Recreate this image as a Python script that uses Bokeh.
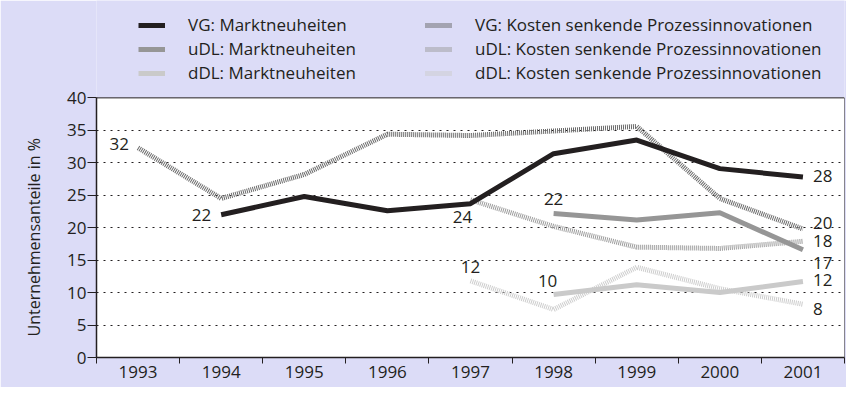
from bokeh.plotting import figure
from bokeh.models import ColumnDataSource, FixedTicker, Legend, LegendItem, Range1d, Title
from bokeh.embed import file_html
from bokeh.resources import INLINE
from bokeh.core.properties import value

nan = float("nan")
years = ["1993", "1994", "1995", "1996", "1997", "1998", "1999", "2000", "2001"]
y_ticks = [0, 5, 10, 15, 20, 25, 30, 35, 40]

vg_markt = [nan, 22.0, 24.8, 22.6, 23.7, 31.4, 33.5, 29.1, 27.8]
udl_markt = [nan, nan, nan, nan, nan, 22.2, 21.2, 22.3, 16.6]
ddl_markt = [nan, nan, nan, nan, nan, 9.7, 11.2, 10.0, 11.7]
vg_kosten = [32.3, 24.5, 28.2, 34.4, 34.2, 34.9, 35.6, 24.5, 19.8]
udl_kosten = [nan, nan, nan, nan, 24.3, 20.2, 17.0, 16.8, 17.9]
ddl_kosten = [nan, nan, nan, nan, 11.8, 7.4, 13.9, 10.6, 8.2]

labels_markt = ["VG: Marktneuheiten", "uDL: Marktneuheiten", "dDL: Marktneuheiten"]
labels_kosten = ["VG: Kosten senkende Prozessinnovationen",
                 "uDL: Kosten senkende Prozessinnovationen",
                 "dDL: Kosten senkende Prozessinnovationen"]
y_title = "Unternehmensanteile in %"

FONT = "Open Sans"
DARK = "#231f20"
BG = "#dcdcf7"

xs = [i + 0.5 for i in range(len(years))]
y_min, y_max = y_ticks[0], y_ticks[-1]
Y_TOP = 55  # headroom above the plot box that holds the legend

p = figure(width=846, height=387, output_backend="svg", toolbar_location=None,
           x_range=Range1d(0, len(years)), y_range=Range1d(y_min, Y_TOP),
           min_border_left=92, min_border_right=2, min_border_top=0, min_border_bottom=30)
p.border_fill_color = BG
p.background_fill_color = BG
p.outline_line_color = None

# white plot box
box = p.quad(left=[0], right=[len(years)], bottom=[y_min], top=[y_max],
             fill_color="white", line_color=DARK, line_width=1)
box.level = "image"

# axes
p.xaxis.ticker = FixedTicker(ticks=xs, minor_ticks=list(range(len(years) + 1)))
p.xaxis.major_label_overrides = {x: y for x, y in zip(xs, years)}
p.xaxis.major_tick_line_color = None
p.xaxis.major_tick_out = 0
p.xaxis.minor_tick_line_color = DARK
p.xaxis.minor_tick_in = 0
p.xaxis.minor_tick_out = 6
p.xaxis.axis_line_color = DARK
p.xaxis.axis_line_width = 1.5
p.xaxis.major_label_standoff = 2

p.yaxis.ticker = FixedTicker(ticks=y_ticks)
p.yaxis.bounds = (y_min, y_max)
p.yaxis.minor_tick_line_color = None
p.yaxis.major_tick_line_color = DARK
p.yaxis.major_tick_in = 0
p.yaxis.major_tick_out = 9
p.yaxis.axis_line_color = DARK
p.yaxis.axis_line_width = 1.5
p.yaxis.major_label_standoff = 1

for ax in (p.xaxis, p.yaxis):
    ax.major_label_text_font = FONT
    ax.major_label_text_font_size = "17px"
    ax.major_label_text_color = DARK

p.add_layout(Title(text=y_title, align="left", offset=21, text_font=FONT,
                   text_font_size="16px", text_font_style="normal",
                   text_color=DARK, standoff=40), "left")

p.xgrid.grid_line_color = None
p.ygrid.ticker = FixedTicker(ticks=y_ticks[1:-1])
p.ygrid.grid_line_color = DARK
p.ygrid.grid_line_dash = "2 5"
p.ygrid.grid_line_width = 1.2

# series
series = [
    (vg_kosten, "#6a6a6a", "1 1", labels_kosten[0]),
    (udl_kosten, "#9c9c9c", "1 1", labels_kosten[1]),
    (ddl_kosten, "#cdcdcd", "1 1", labels_kosten[2]),
    (vg_markt, DARK, "solid", labels_markt[0]),
    (udl_markt, "#969696", "solid", labels_markt[1]),
    (ddl_markt, "#cacaca", "solid", labels_markt[2]),
]
renderers = {}
for vals, col, dash, lab in series:
    src = ColumnDataSource(dict(x=xs, y=vals))
    r = p.line("x", "y", source=src, line_color=col, line_width=5, line_dash=dash,
               line_cap="butt", line_join="round")
    renderers[lab] = r

def first_idx(v):
    return next(i for i, a in enumerate(v) if a == a)

last = len(years) - 1
label_specs = [
    (vg_kosten, first_idx(vg_kosten), "right", -9, -4),
    (vg_markt, first_idx(vg_markt), "right", -10, 0),
    (udl_kosten, first_idx(udl_kosten), "center", -8, 17),
    (ddl_kosten, first_idx(ddl_kosten), "center", 0, -14),
    (udl_markt, first_idx(udl_markt), "center", 0, -14),
    (ddl_markt, first_idx(ddl_markt), "center", -6, -14),
    (vg_markt, last, "left", 10, -1),
    (vg_kosten, last, "left", 10, -6),
    (udl_kosten, last, "left", 10, 0),
    (udl_markt, last, "left", 10, 13),
    (ddl_markt, last, "left", 10, -2),
    (ddl_kosten, last, "left", 10, 5),
]
for vals, i, align, dx, dy in label_specs:
    p.text(x=[xs[i]], y=[vals[i]], text=[str(round(vals[i]))], x_offset=dx, y_offset=dy,
           text_align=align, text_baseline="middle", text_font=value(FONT),
           text_font_size="17px", text_color=DARK)

def make_legend(labels, x_off):
    items = [LegendItem(label=l, renderers=[renderers[l]]) for l in labels]
    lg = Legend(items=items, location=(x_off, 273), orientation="vertical",
                padding=0, margin=0, spacing=1, glyph_width=27, glyph_height=20,
                label_height=20, label_standoff=23, label_text_font=FONT,
                label_text_font_size="17px", label_text_color=DARK,
                border_line_color=None, background_fill_alpha=0)
    p.add_layout(lg, "center")

make_legend(labels_markt, 42)
make_legend(labels_kosten, 329)

open("out.html", "w").write(file_html(p, INLINE))
